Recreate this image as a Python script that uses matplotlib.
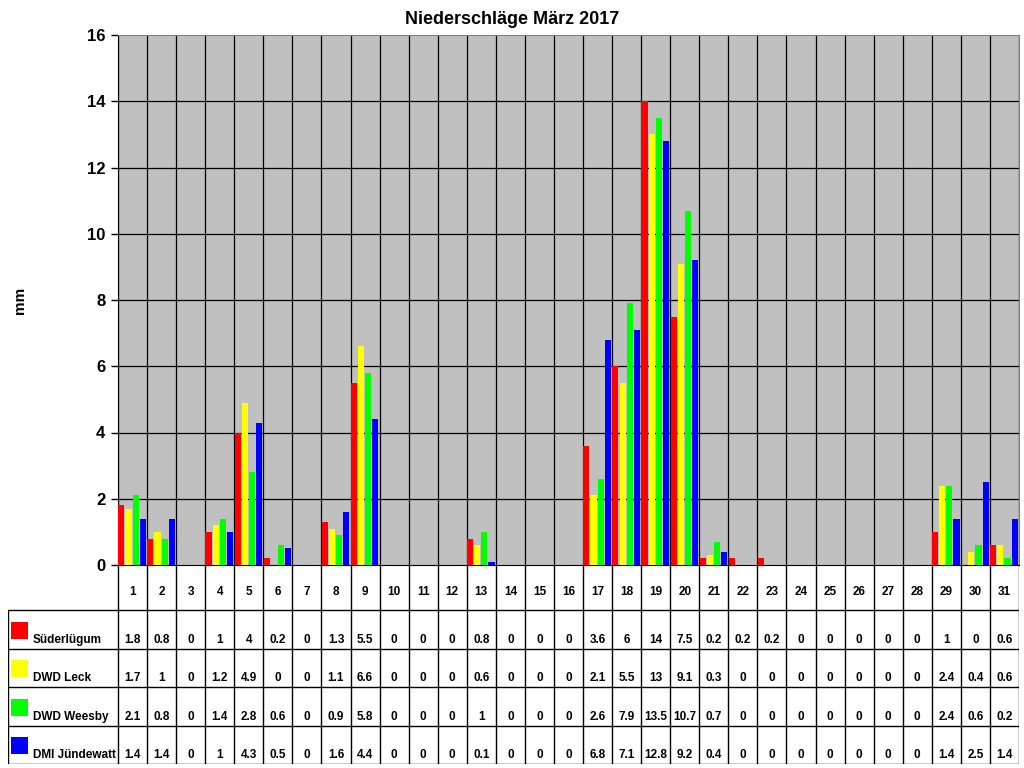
import matplotlib
matplotlib.use("Agg")
import matplotlib.pyplot as plt
from matplotlib.patches import Rectangle

plt.rcParams['font.family'] = ['Liberation Sans', 'DejaVu Sans']
plt.rcParams['font.weight'] = 'bold'

days = list(range(1, 32))
series_names = ["Süderlügum", "DWD Leck", "DWD Weesby", "DMI Jündewatt"]
colors = ["#FF0000", "#FFFF00", "#00FF00", "#0000FF"]

suederluegum = [1.8, 0.8, 0, 1, 4, 0.2, 0, 1.3, 5.5, 0, 0, 0, 0.8, 0, 0, 0,
                3.6, 6, 14, 7.5, 0.2, 0.2, 0.2, 0, 0, 0, 0, 0, 1, 0, 0.6]
dwd_leck = [1.7, 1, 0, 1.2, 4.9, 0, 0, 1.1, 6.6, 0, 0, 0, 0.6, 0, 0, 0,
            2.1, 5.5, 13, 9.1, 0.3, 0, 0, 0, 0, 0, 0, 0, 2.4, 0.4, 0.6]
dwd_weesby = [2.1, 0.8, 0, 1.4, 2.8, 0.6, 0, 0.9, 5.8, 0, 0, 0, 1, 0, 0, 0,
              2.6, 7.9, 13.5, 10.7, 0.7, 0, 0, 0, 0, 0, 0, 0, 2.4, 0.6, 0.2]
dmi_juendewatt = [1.4, 1.4, 0, 1, 4.3, 0.5, 0, 1.6, 4.4, 0, 0, 0, 0.1, 0, 0, 0,
                  6.8, 7.1, 12.8, 9.2, 0.4, 0, 0, 0, 0, 0, 0, 0, 1.4, 2.5, 1.4]
series = [suederluegum, dwd_leck, dwd_weesby, dmi_juendewatt]

title = "Niederschläge März 2017"
ylabel = "mm"
yticks = [0, 2, 4, 6, 8, 10, 12, 14, 16]

W, H = 1024, 768
fig = plt.figure(figsize=(W / 100, H / 100), dpi=100)

# pixel geometry
pl, pr, pt, pb = 118, 1019, 35, 565
tab_left, tab_bottom = 8, 764
row_lines = [610, 649, 687, 726, 764]

ax = fig.add_axes([pl / W, 1 - pb / H, (pr - pl) / W, (pb - pt) / H])
ax.set_facecolor("#C0C0C0")
ax.set_xlim(0.5, 31.5)
ax.set_ylim(0, 16)
ax.set_yticks(yticks)
ax.set_yticklabels([str(v) for v in yticks], fontsize=12, fontweight='bold')
ax.tick_params(axis='y', length=5, width=1, pad=4, direction='out')
ax.set_xticks([])
for d in range(32):
    ax.axvline(d + 0.5, color='black', lw=0.9, zorder=1)
for v in yticks[1:-1]:
    ax.axhline(v, color='black', lw=0.9, zorder=1)
ax.spines['top'].set_color('#808080')
ax.spines['right'].set_color('#808080')
ax.spines['left'].set_color('black')
ax.spines['bottom'].set_color('black')

offsets = [-0.385, -0.14, 0.105, 0.35]
bw = 0.21
for vals, col, off in zip(series, colors, offsets):
    ax.bar([d + off for d in days], vals, width=bw, color=col, zorder=3, linewidth=0)

fig.text(0.5, 1 - 20 / H, title, ha='center', va='center', fontsize=13, fontweight='bold')
fig.text(20 / W, 1 - 300 / H, ylabel, ha='center', va='center', rotation=90,
         fontsize=11, fontweight='bold')

# table axes, sharing the day scale of the bar axes
slot = (pr - pl) / 31.0
x_left_day = 0.5 - (pl - tab_left) / slot
tax = fig.add_axes([tab_left / W, 1 - tab_bottom / H, (pr - tab_left) / W, (tab_bottom - pb) / H])
tax.set_xlim(x_left_day, 31.5)
tax.set_ylim(tab_bottom, pb)
tax.axis('off')

lw = 1.0
for d in range(32):
    tax.plot([d + 0.5, d + 0.5], [pb, tab_bottom], color='black', lw=lw, solid_capstyle='butt')
for y in row_lines:
    tax.plot([x_left_day, 31.5], [y, y], color='black', lw=lw, solid_capstyle='butt')
tax.plot([x_left_day, x_left_day], [row_lines[0], tab_bottom], color='black', lw=lw)

for d in days:
    tax.text(d, 592, str(d), ha='center', va='center', fontsize=8.5, fontweight='bold')

for i, (name, col, vals) in enumerate(zip(series_names, colors, series)):
    ytxt = row_lines[i + 1] - 9
    sq_x = x_left_day + 3 / slot
    tax.add_patch(Rectangle((sq_x, ytxt - 1), 17 / slot, -17, facecolor=col, edgecolor='none'))
    tax.text(x_left_day + 25 / slot, ytxt, name, ha='left', va='center', fontsize=8.5, fontweight='bold')
    for d, v in zip(days, vals):
        tax.text(d, ytxt, f"{v:g}", ha='center', va='center', fontsize=8.5, fontweight='bold')

fig.savefig("out.png", dpi=100)
